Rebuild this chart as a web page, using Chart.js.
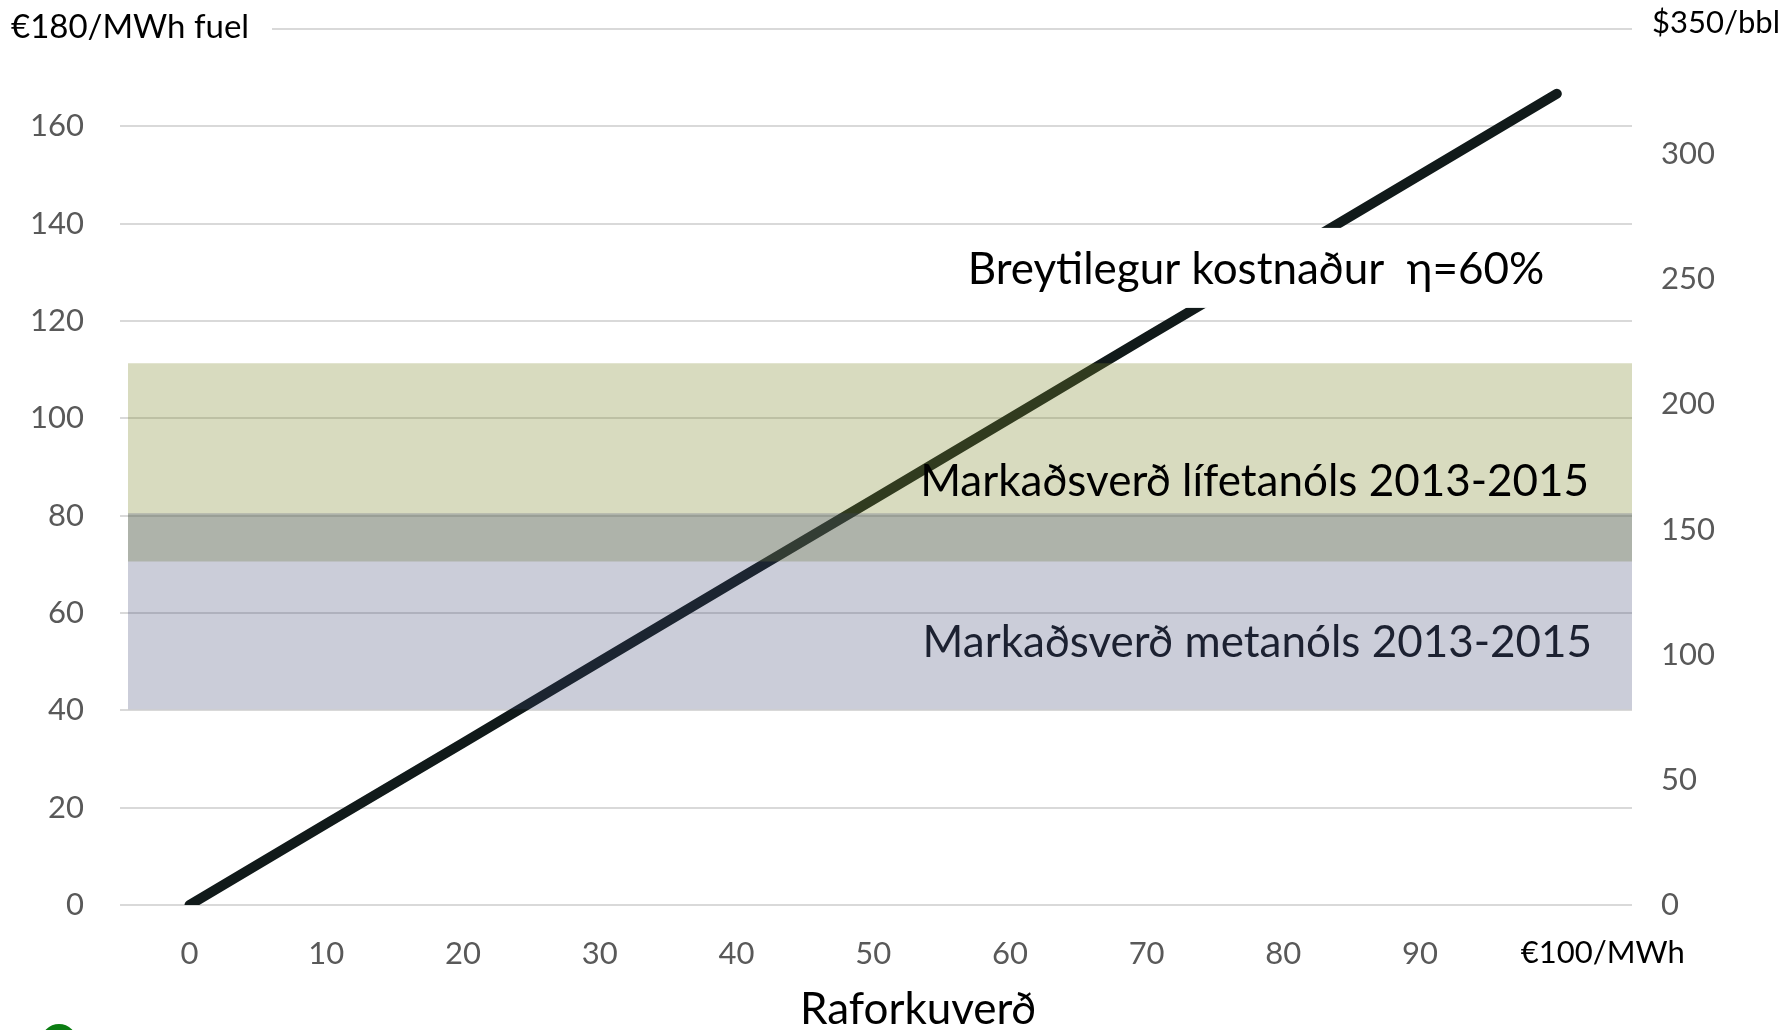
<!DOCTYPE html>
<html>
<head>
<meta charset="utf-8">
<script src="https://cdn.jsdelivr.net/npm/chart.js@4.4.0/dist/chart.umd.min.js"></script>
<style>
  html, body { margin: 0; padding: 0; background: #fff; }
  #wrap { width: 1787px; height: 1030px; position: relative; }
</style>
</head>
<body>
<div id="wrap"><canvas id="chart"></canvas></div>
<script>
// electricity price (€/MWh) vs. variable fuel cost at 60% efficiency (€/MWh fuel)
const electricityPrice = [0, 10, 20, 30, 40, 50, 60, 70, 80, 90, 100];
const fuelCost = [0, 16.7, 33.3, 50, 66.7, 83.3, 100, 116.7, 133.3, 150, 166.7];

// market price bands 2013-2015, [low, high] in €/MWh fuel
const bioethanolPrice = [70.6, 111.3];
const methanolPrice = [40.2, 80.5];

const xTicks = [0, 10, 20, 30, 40, 50, 60, 70, 80, 90, 100];
const leftTicks = [0, 20, 40, 60, 80, 100, 120, 140, 160, 180];
const rightTicks = [0, 50, 100, 150, 200, 250, 300, 350];
const xRange = [-4.5, 105.5];

const FONT = 'Lato, "Open Sans", sans-serif';
const GREY = '#595959';

function band(range, color, order) {
  return {
    type: 'line',
    data: [{ x: xRange[0], y: range[1] }, { x: xRange[1], y: range[1] }],
    fill: { value: range[0] },
    backgroundColor: color,
    borderWidth: 0,
    pointRadius: 0,
    order: order
  };
}

const texts = [
  { text: 'Breytilegur kostnaður  η=60%', x: 78.0, y: 130.5, color: '#000', box: true },
  { text: 'Markaðsverð lífetanóls 2013-2015', x: 77.9, y: 86.9, color: '#000' },
  { text: 'Markaðsverð metanóls 2013-2015', x: 78.1, y: 53.8, color: '#1c2131' }
];

const textPlugin = {
  id: 'texts',
  afterDatasetsDraw(chart) {
    const { ctx, scales } = chart;
    ctx.save();
    ctx.font = '44px ' + FONT;
    ctx.textAlign = 'center';
    ctx.textBaseline = 'middle';
    texts.forEach(t => {
      const px = scales.x.getPixelForValue(t.x);
      const py = scales.y.getPixelForValue(t.y);
      if (t.box) {
        const w = ctx.measureText(t.text).width;
        ctx.fillStyle = '#fff';
        ctx.fillRect(px - w / 2 - 10, py - 42, w + 20, 80);
      }
      ctx.fillStyle = t.color;
      ctx.fillText(t.text, px, py);
    });
    ctx.restore();
  },
  afterDraw(chart) {
    const { ctx, scales } = chart;
    ctx.save();
    ctx.textBaseline = 'middle';
    const top = scales.y.getPixelForValue(180);
    ctx.fillStyle = '#fff';
    ctx.fillRect(0, top - 22, 272, 44);
    ctx.fillStyle = '#000';
    ctx.textAlign = 'left';
    ctx.font = '33px ' + FONT;
    ctx.fillText('€180/MWh fuel', 11, top - 2);
    ctx.font = '31px ' + FONT;
    ctx.fillText('$350/bbl', 1652, top - 6);
    ctx.textAlign = 'center';
    ctx.fillText('€100/MWh', scales.x.getPixelForValue(100) + 46, 953);
    // axis title
    ctx.font = '44px ' + FONT;
    ctx.fillText('Raforkuverð', 918, 1010);
    // logo fragment at bottom left
    ctx.fillStyle = '#0b7d12';
    ctx.beginPath();
    ctx.arc(59, 1042, 18, 0, Math.PI * 2);
    ctx.fill();
    ctx.restore();
  }
};

function fitY(width) {
  return s => {
    s.width = width;
    s.paddingTop = 0;
    s.paddingBottom = 0;
  };
}

new Chart(document.getElementById('chart'), {
  type: 'line',
  data: {
    datasets: [
      {
        data: electricityPrice.map((x, i) => ({ x: x, y: fuelCost[i] })),
        borderColor: '#111a1a',
        borderWidth: 10,
        borderCapStyle: 'round',
        pointRadius: 0,
        fill: false,
        order: 10
      },
      band(bioethanolPrice, 'rgba(125,135,42,0.3)', 2),
      band(methanolPrice, 'rgba(59,66,112,0.265)', 1)
    ]
  },
  options: {
    responsive: true,
    maintainAspectRatio: false,
    animation: false,
    layout: { padding: { top: 29, left: 0, right: 0, bottom: 0 } },
    plugins: { legend: { display: false }, tooltip: { enabled: false } },
    scales: {
      x: {
        type: 'linear',
        min: xRange[0],
        max: xRange[1],
        afterBuildTicks: s => { s.ticks = xTicks.map(v => ({ value: v })); },
        afterFit: s => { s.height = 125; s.paddingLeft = 0; s.paddingRight = 0; },
        grid: { display: false },
        border: { display: false },
        ticks: {
          color: GREY,
          font: { family: FONT, size: 31 },
          padding: 22,
          maxRotation: 0,
          callback: v => (v === 100 ? '' : v)
        }
      },
      y: {
        min: 0,
        max: 180,
        afterBuildTicks: s => { s.ticks = leftTicks.map(v => ({ value: v })); },
        afterFit: fitY(128),
        grid: { color: '#d9d9d9', lineWidth: 2, tickLength: 8, tickColor: '#d9d9d9' },
        border: { display: false },
        ticks: {
          color: GREY,
          font: { family: FONT, size: 31 },
          padding: 36,
          callback: v => (v === 180 ? '' : v)
        }
      },
      y2: {
        position: 'right',
        min: 0,
        max: 350,
        afterBuildTicks: s => { s.ticks = rightTicks.map(v => ({ value: v })); },
        afterFit: fitY(155),
        grid: { display: false },
        border: { display: false },
        ticks: {
          color: GREY,
          font: { family: FONT, size: 31 },
          padding: 21,
          callback: v => (v === 350 ? '' : v)
        }
      }
    }
  },
  plugins: [textPlugin]
});
</script>
</body>
</html>
